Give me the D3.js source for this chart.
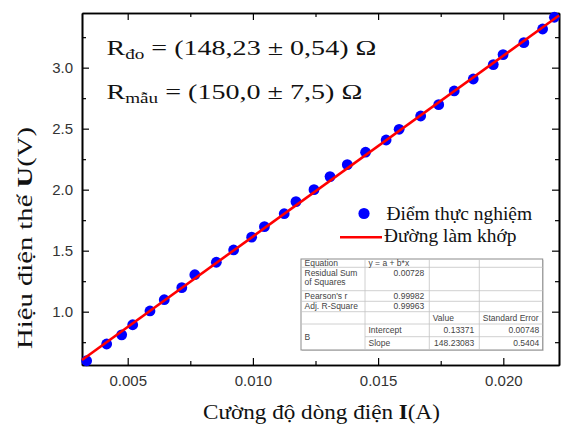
<!DOCTYPE html>
<html>
<head>
<meta charset="utf-8">
<script src="https://cdn.jsdelivr.net/npm/d3@7"></script>
<style>
body { margin: 0; background: #fff; }
.axis path, .axis line { stroke: #000; }
.axis text { font-family: "Liberation Sans", Arial, sans-serif; font-size: 15px; fill: #333; }
.serif { font-family: "Liberation Serif", "Times New Roman", serif; fill: #111; }
.tbl text { font-family: "Liberation Sans", Arial, sans-serif; font-size: 8.5px; fill: #444; }
</style>
</head>
<body>
<svg width="561" height="424"></svg>
<script>
// measured points, I (A) and U (V)
var current = [0.00336, 0.00416, 0.00476, 0.00520, 0.00589, 0.00646, 0.00716, 0.00768, 0.00854, 0.00923,
               0.00995, 0.01046, 0.01125, 0.01172, 0.01244, 0.01308, 0.01377, 0.01450, 0.01532, 0.01584,
               0.01670, 0.01742, 0.01804, 0.01880, 0.01960, 0.01999, 0.02082, 0.02157, 0.02204];
var voltage = [0.598, 0.735, 0.810, 0.893, 1.006, 1.098, 1.197, 1.303, 1.405, 1.506,
               1.611, 1.697, 1.803, 1.902, 2.000, 2.107, 2.205, 2.307, 2.407, 2.495,
               2.604, 2.697, 2.809, 2.907, 3.025, 3.107, 3.205, 3.317, 3.413];

// linear fit y = a + b*x
var intercept = 0.13371, slope = 148.23083;

var xDomain = [0.003175, 0.022224],
    yDomain = [0.563, 3.448];
var xMajor = [0.005, 0.010, 0.015, 0.020],
    xMinor = [0.0075, 0.0125, 0.0175],
    yMajor = [1.0, 1.5, 2.0, 2.5, 3.0],
    yMinor = [0.75, 1.25, 1.75, 2.25, 2.75, 3.25];

var legendLabels = ["Điểm thực nghiệm", "Đường làm khớp"];

// fit result table (Origin style)
var tableRows = [
  ["Equation", "y = a + b*x", "", ""],
  ["Residual Sum|of Squares", "0.00728", "", ""],
  ["Pearson's r", "0.99982", "", ""],
  ["Adj. R-Square", "0.99963", "", ""],
  ["", "", "Value", "Standard Error"],
  ["B", "Intercept", "0.13371", "0.00748"],
  ["", "Slope", "148.23083", "0.5404"]
];

var svg = d3.select("svg"),
    margin = {top: 13, right: 2, bottom: 59, left: 82},
    width = 561 - margin.left - margin.right,
    height = 424 - margin.top - margin.bottom,
    g = svg.append("g").attr("transform", "translate(" + margin.left + "," + margin.top + ")");

var x = d3.scaleLinear().domain(xDomain).range([0, width]),
    y = d3.scaleLinear().domain(yDomain).range([height, 0]);

// squeeze/stretch a text horizontally to a target width, keeping point ax fixed
function fit(sel, w, ax) {
  var b = sel.node().getBBox();
  var k = w / b.width;
  sel.attr("transform", "translate(" + (ax * (1 - k)) + ",0) scale(" + k + ",1)");
}

// axes
function frame(axis, tr, vals, size, labels) {
  var a = g.append("g").attr("class", "axis").attr("transform", tr)
    .call(axis.tickValues(vals).tickSize(-size).tickSizeOuter(0)
      .tickFormat(labels ? labels : ""));
  a.select(".domain").attr("stroke-width", 1.6);
  a.selectAll(".tick line").attr("stroke-width", 1.2);
  return a;
}
frame(d3.axisBottom(x).tickPadding(10), "translate(0," + height + ")", xMajor, 7, d3.format(".3f"));
frame(d3.axisBottom(x), "translate(0," + height + ")", xMinor, 4);
frame(d3.axisTop(x), "translate(0,0)", xMajor, 7);
frame(d3.axisTop(x), "translate(0,0)", xMinor, 4);
frame(d3.axisLeft(y).tickPadding(9), "translate(0,0)", yMajor, 7, d3.format(".1f"));
frame(d3.axisLeft(y), "translate(0,0)", yMinor, 4);
frame(d3.axisRight(y), "translate(" + width + ",0)", yMajor, 7);
frame(d3.axisRight(y), "translate(" + width + ",0)", yMinor, 4);

// points
g.selectAll(".dot")
  .data(current)
  .enter().append("circle")
  .attr("class", "dot")
  .attr("cx", function(d) { return x(d); })
  .attr("cy", function(d, i) { return y(voltage[i]); })
  .attr("r", 5.4)
  .attr("fill", "#0000ff");

// fit line
var line = d3.line()
  .x(function(d) { return x(d); })
  .y(function(d) { return y(intercept + slope * d); });
g.append("path")
  .attr("d", line(xDomain))
  .attr("fill", "none")
  .attr("stroke", "#ff0000")
  .attr("stroke-width", 2.6);

// R annotations
function rLabel(sub, rest, yy, w) {
  var t = svg.append("text").attr("class", "serif").attr("x", 106.5).attr("y", yy).style("font-size", "22px");
  t.append("tspan").text("R");
  t.append("tspan").attr("dy", 4).style("font-size", "15px").text(sub);
  t.append("tspan").attr("dy", -4).text(rest);
  fit(t, w, 106.5);
}
rLabel("đo", " = (148,23 ± 0,54) Ω", 55, 270);
rLabel("mẫu", " = (150,0 ± 7,5) Ω", 99, 256);

// legend
svg.append("circle").attr("cx", 364).attr("cy", 213.5).attr("r", 5.6).attr("fill", "#0000ff");
svg.append("line").attr("x1", 340).attr("x2", 382).attr("y1", 237.3).attr("y2", 237.3)
  .attr("stroke", "#ff0000").attr("stroke-width", 2.6);
var l1 = svg.append("text").attr("class", "serif").attr("x", 386.5).attr("y", 220)
  .style("font-size", "19px").text(legendLabels[0]);
fit(l1, 146, 386.5);
var l2 = svg.append("text").attr("class", "serif").attr("x", 384).attr("y", 242)
  .style("font-size", "19px").text(legendLabels[1]);
fit(l2, 132.5, 384);

// table
var tx = 301, ty = 259,
    colW = [64, 64.3, 50, 63.4],
    rowH = [8.3, 23.4, 10.6, 10.4, 12.3, 12.7, 13.3];
var colX = [tx], rowY = [ty];
colW.forEach(function(w, i) { colX.push(colX[i] + w); });
rowH.forEach(function(h, i) { rowY.push(rowY[i] + h); });
var tbl = svg.append("g").attr("class", "tbl");
tbl.append("rect").attr("x", tx + 1).attr("y", ty + 1)
  .attr("width", colX[4] - tx).attr("height", rowY[7] - ty).attr("fill", "#d8d8d8");
tbl.append("rect").attr("x", tx).attr("y", ty)
  .attr("width", colX[4] - tx).attr("height", rowY[7] - ty)
  .attr("fill", "#fff").attr("stroke", "#8c8c8c").attr("stroke-width", 1);
rowY.slice(1, 7).forEach(function(yy, i) {
  tbl.append("line").attr("x1", i === 5 ? colX[1] : tx).attr("x2", colX[4])
    .attr("y1", yy).attr("y2", yy).attr("stroke", "#c4c4c4").attr("stroke-width", 0.8);
});
colX.slice(1, 4).forEach(function(xx) {
  tbl.append("line").attr("x1", xx).attr("x2", xx).attr("y1", ty).attr("y2", rowY[7])
    .attr("stroke", "#c4c4c4").attr("stroke-width", 0.8);
});
tableRows.forEach(function(row, r) {
  row.forEach(function(cell, c) {
    if (!cell) return;
    var lines = cell.split("|");
    var numeric = /^[0-9.]+$/.test(cell);
    var cy = lines.length > 1 || r === 1 ? rowY[r] + 5.5 : (rowY[r] + rowY[r + 1]) / 2;
    if (cell === "B") cy = (rowY[5] + rowY[7]) / 2;
    lines.forEach(function(s, k) {
      tbl.append("text")
        .attr("x", numeric ? colX[c + 1] - (c === 3 ? 3.5 : 5) : colX[c] + 3.5)
        .attr("y", cy + k * 9)
        .attr("dy", "0.35em")
        .attr("text-anchor", numeric ? "end" : "start")
        .text(s);
    });
  });
});

// axis titles
var xt = svg.append("text").attr("class", "serif").attr("x", 321.5).attr("y", 419)
  .attr("text-anchor", "middle").style("font-size", "21px");
xt.append("tspan").text("Cường độ dòng điện ");
xt.append("tspan").style("font-weight", "bold").text("I");
xt.append("tspan").text("(A)");
fit(xt, 237, 321.5);

var yg = svg.append("g").attr("transform", "translate(32,0) rotate(-90)");
var yt = yg.append("text").attr("class", "serif").attr("x", -238).attr("y", 0)
  .attr("text-anchor", "middle").style("font-size", "21px");
yt.append("tspan").text("Hiệu điện thế ");
yt.append("tspan").style("font-weight", "bold").text("U");
yt.append("tspan").text("(V)");
fit(yt, 222, -238);
</script>
</body>
</html>
